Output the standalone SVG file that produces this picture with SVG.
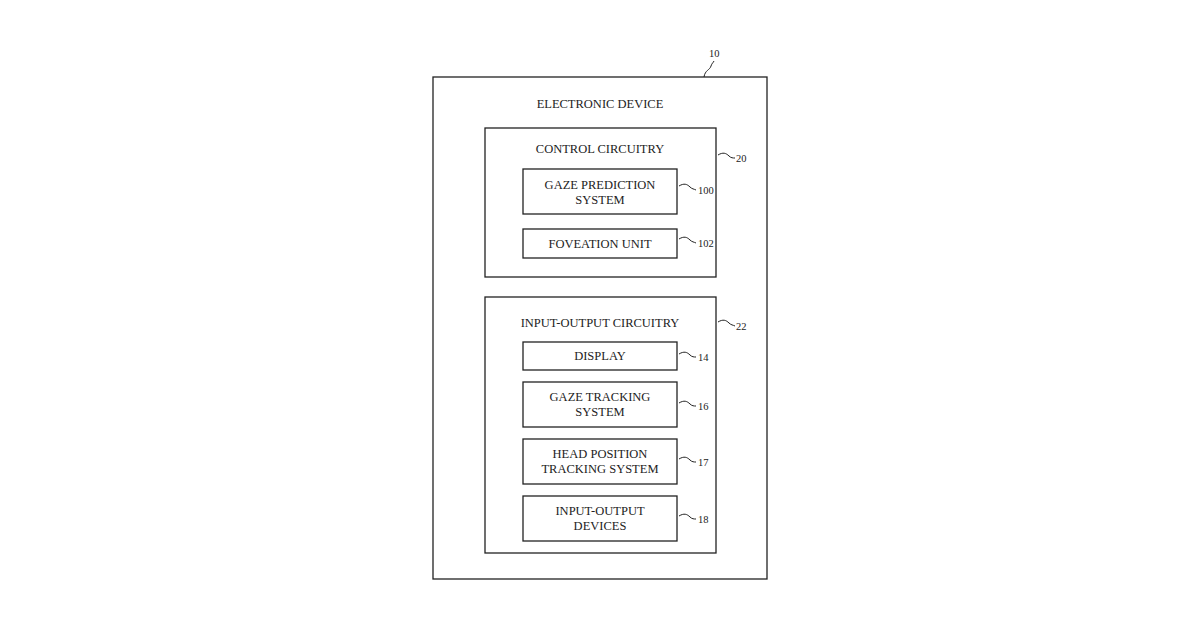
<svg xmlns="http://www.w3.org/2000/svg" width="1200" height="630" viewBox="0 0 1200 630">
<style>
.b{fill:#fff;stroke:#222;stroke-width:1.3}
.t{font-family:"Liberation Serif",serif;font-size:12.5px;fill:#222;text-anchor:middle}
.r{font-family:"Liberation Serif",serif;font-size:10.5px;fill:#222}
.l{fill:none;stroke:#222;stroke-width:1}
</style>
<rect width="1200" height="630" fill="#fff"/>
<g id="n10"><rect class="b" x="433" y="77" width="334" height="502"/><text class="t" x="600" y="108">ELECTRONIC DEVICE</text><text class="r" x="709" y="57">10</text></g>
<g id="n20"><rect class="b" x="485" y="128" width="231" height="149"/><text class="t" x="600" y="153">CONTROL CIRCUITRY</text><text class="r" x="736" y="162">20</text></g>
<g id="n100"><rect class="b" x="523" y="169" width="154" height="45"/><text class="t" x="600" y="189">GAZE PREDICTION</text><text class="t" x="600" y="204">SYSTEM</text><text class="r" x="698" y="194">100</text></g>
<g id="n102"><rect class="b" x="523" y="229" width="154" height="29"/><text class="t" x="600" y="248">FOVEATION UNIT</text><text class="r" x="698" y="247">102</text></g>
<g id="n22"><rect class="b" x="485" y="297" width="231" height="256"/><text class="t" x="600" y="327">INPUT-OUTPUT CIRCUITRY</text><text class="r" x="736" y="330">22</text></g>
<g id="n14"><rect class="b" x="523" y="342" width="154" height="28"/><text class="t" x="600" y="360">DISPLAY</text><text class="r" x="698" y="361">14</text></g>
<g id="n16"><rect class="b" x="523" y="382" width="154" height="45"/><text class="t" x="600" y="401">GAZE TRACKING</text><text class="t" x="600" y="416">SYSTEM</text><text class="r" x="698" y="410">16</text></g>
<g id="n17"><rect class="b" x="523" y="439" width="154" height="45"/><text class="t" x="600" y="458">HEAD POSITION</text><text class="t" x="600" y="473">TRACKING SYSTEM</text><text class="r" x="698" y="466">17</text></g>
<g id="n18"><rect class="b" x="523" y="496" width="154" height="45"/><text class="t" x="600" y="515">INPUT-OUTPUT</text><text class="t" x="600" y="530">DEVICES</text><text class="r" x="698" y="523">18</text></g>
<g id="connectors">
<path class="l" d="M704,77 C705,70 710,70 711,66 C712,63 713,63 714,61"/>
<path class="l" d="M718,155 C723,152 726,153 729,156 C731,158 733,158 735,158"/>
<path class="l" d="M679,186 C684,183 687,184 690,187 C692,189 694,189 696,190"/>
<path class="l" d="M679,239 C684,236 687,237 690,240 C692,242 694,242 696,243"/>
<path class="l" d="M718,322 C723,319 726,320 729,323 C731,325 733,325 735,326"/>
<path class="l" d="M679,354 C684,351 687,352 690,355 C692,357 694,357 696,357"/>
<path class="l" d="M679,403 C684,400 687,401 690,404 C692,406 694,406 696,406"/>
<path class="l" d="M679,459 C684,456 687,457 690,460 C692,462 694,462 696,462"/>
<path class="l" d="M679,516 C684,513 687,514 690,517 C692,519 694,519 696,519"/>
</g>
</svg>
